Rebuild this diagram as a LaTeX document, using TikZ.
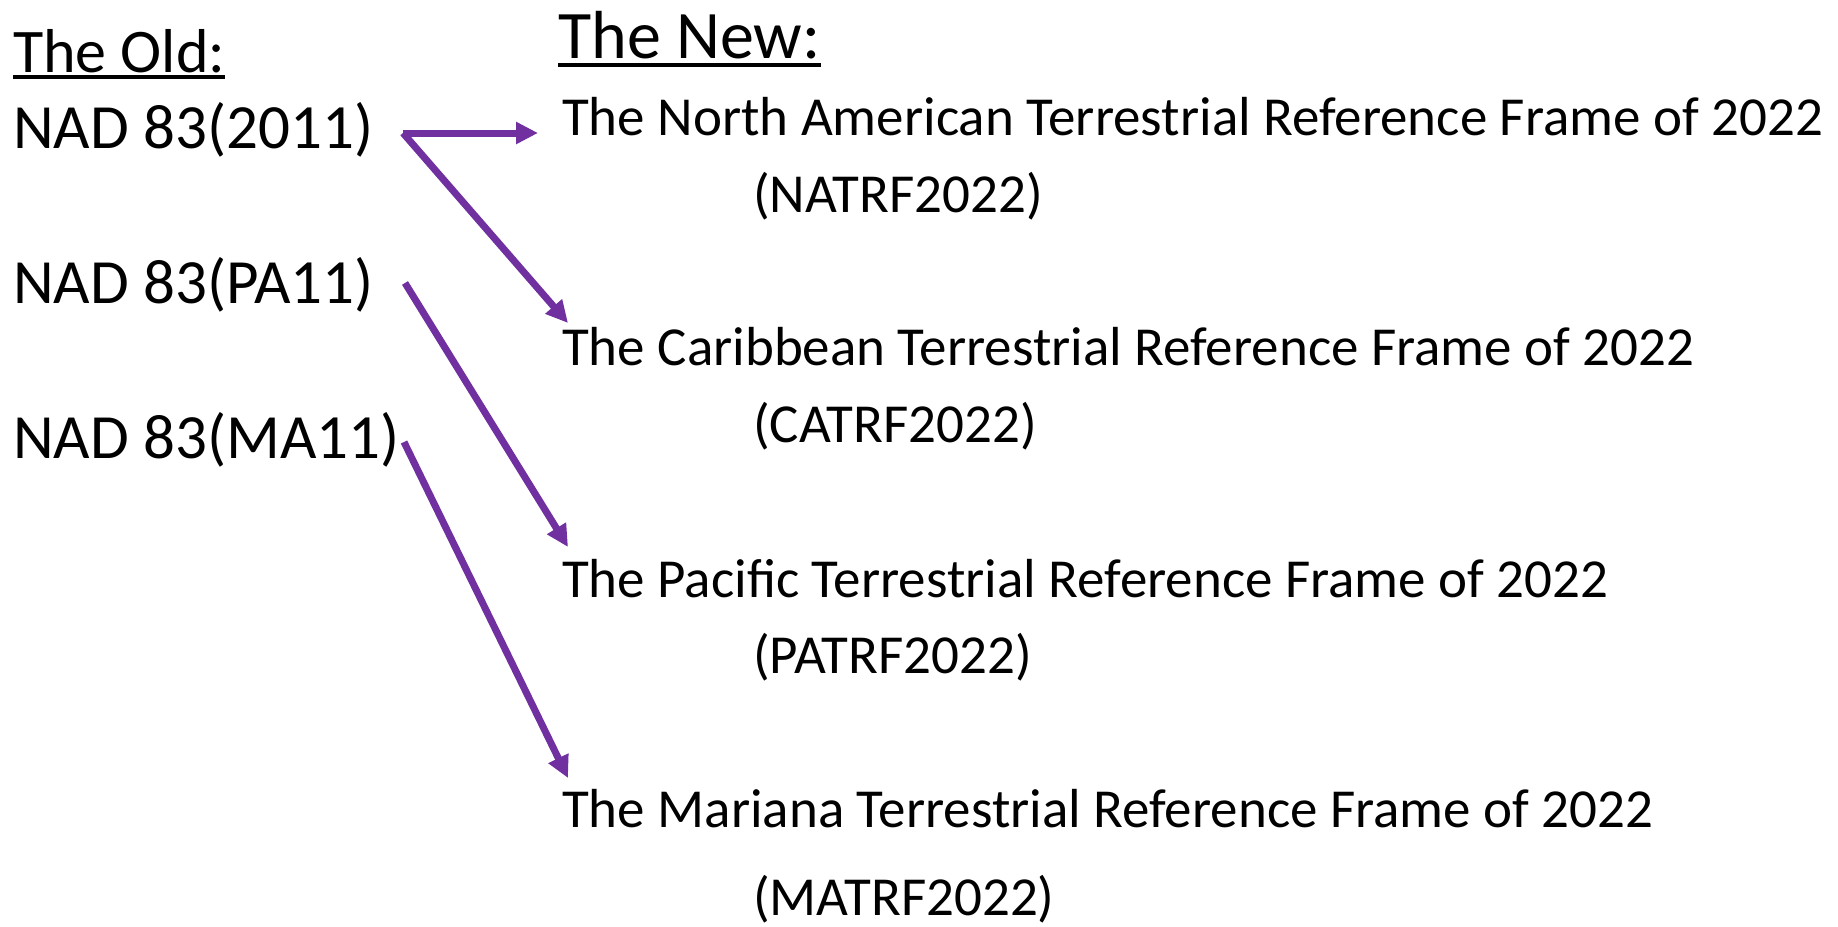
\documentclass[tikz,border=0pt]{standalone}
\usepackage{fontspec}
\setmainfont{Carlito}
\usetikzlibrary{arrows.meta}
\definecolor{linkpurple}{RGB}{112,48,160}
\tikzstyle{heading}=[anchor=base west, inner sep=0pt, font=\fontsize{62}{62}\selectfont]
\tikzstyle{oldframe}=[anchor=base west, inner sep=0pt, font=\fontsize{63}{63}\selectfont]
\tikzstyle{newframe}=[anchor=base west, inner sep=0pt, font=\fontsize{55}{55}\selectfont]
\tikzstyle{headrule}=[line width=3.5pt, draw=black]
\tikzstyle{framelink}=[line width=7pt, draw=linkpurple, -{Triangle[length=22pt,width=21pt]}]
\begin{document}
\begin{tikzpicture}[x=1pt,y=-1pt]
				\useasboundingbox (0,0) rectangle (1838,926);
				
				%The headings
				\draw (13,72) node[heading] (oldhd) {The Old:};
				\draw (558,58) node[heading, font=\fontsize{68}{68}\selectfont] (newhd) {The New:};
				\draw[headrule] ([yshift=-5pt]oldhd.base west) -- ([yshift=-5pt]oldhd.base east);
				\draw[headrule] ([yshift=-7pt]newhd.base west) -- ([yshift=-7pt]newhd.base east);
				
				%The old frames
				\draw (13,148) node[oldframe] (o1) {NAD 83(2011)};
				\draw (13,303) node[oldframe] (o2) {NAD 83(PA11)};
				\draw (13,458) node[oldframe] (o3) {NAD 83(MA11)};
				
				%The new frames
				\draw (562,135) node[newframe] (n1) {The North American Terrestrial Reference Frame of 2022};
				\draw (753,212) node[newframe] (n1a) {(NATRF2022)};
				\draw (562,365) node[newframe] (n2) {The Caribbean Terrestrial Reference Frame of 2022};
				\draw (753,442) node[newframe] (n2a) {(CATRF2022)};
				\draw (562,597) node[newframe] (n3) {The Pacific Terrestrial Reference Frame of 2022};
				\draw (753,673) node[newframe] (n3a) {(PATRF2022)};
				\draw (562,827) node[newframe] (n4) {The Mariana Terrestrial Reference Frame of 2022};
				\draw (753,915) node[newframe] (n4a) {(MATRF2022)};
				
				%The ends of the arrows
				\coordinate (s1) at ([shift={(390pt,15pt)}]o1.base west);
				\coordinate (s2) at ([shift={(392pt,20pt)}]o2.base west);
				\coordinate (s3) at ([shift={(391pt,16pt)}]o3.base west);
				\coordinate (t1) at ([shift={(-24pt,2pt)}]n1.base west);
				\coordinate (t2) at ([shift={(6pt,42pt)}]n2.base west);
				\coordinate (t3) at ([shift={(6pt,50pt)}]n3.base west);
				\coordinate (t4) at ([shift={(6pt,49pt)}]n4.base west);
				
				\draw[framelink] (s1) -- (t1);
				\draw[framelink] (s1) -- (t2);
				\draw[framelink] (s2) -- (t3);
				\draw[framelink] (s3) -- (t4);
			\end{tikzpicture}
\end{document}
